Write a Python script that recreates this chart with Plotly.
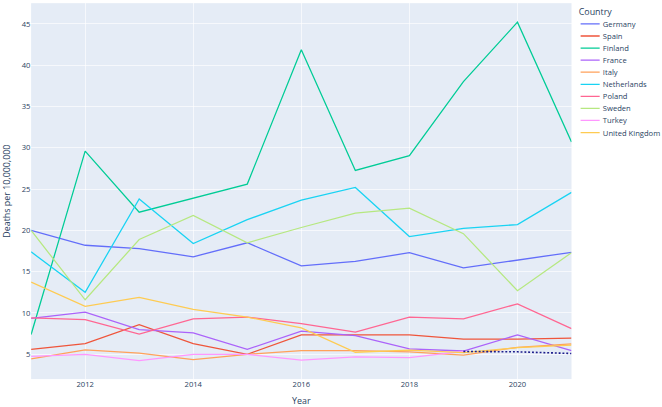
import plotly.graph_objects as go

years = list(range(2011, 2022))

germany = [20.0, 18.2, 17.8, 16.8, 18.5, 15.7, 16.25, 17.3, 15.45, 16.4, 17.35]
spain = [5.6, 6.3, 8.6, 6.3, 5.0, 7.35, 7.35, 7.35, 6.85, 6.85, 6.95]
finland = [7.4, 29.6, 22.2, 23.9, 25.6, 41.85, 27.25, 29.05, 38.0, 45.2, 30.7]
france = [9.35, 10.1, 8.0, 7.6, 5.6, 7.8, 7.25, 5.65, 5.4, 7.35, 5.45]
italy = [4.45, 5.55, 5.15, 4.35, 5.0, 5.45, 5.45, 5.3, 4.9, 5.85, 6.25]
netherlands = [17.4, 12.5, 23.8, 18.4, 21.3, 23.65, 25.2, 19.25, 20.25, 20.7, 24.6]
poland = [9.4, 9.2, 7.45, 9.3, 9.5, 8.7, 7.7, 9.5, 9.3, 11.1, 8.1]
sweden = [20.0, 11.6, 18.9, 21.8, 18.5, 20.35, 22.1, 22.7, 19.6, 12.7, 17.3]
turkey = [4.75, 5.0, 4.25, 5.0, 5.0, 4.3, 4.7, 4.6, 5.35, None, None]
uk = [13.75, 10.8, 11.9, 10.45, 9.5, 8.2, 5.25, 5.5, 5.2, 5.8, 6.1]

proj_years = [2019, 2020, 2021]
proj_values = [5.35, 5.3, 5.1]

countries = ["Germany", "Spain", "Finland", "France", "Italy", "Netherlands",
             "Poland", "Sweden", "Turkey", "United Kingdom"]
series = [germany, spain, finland, france, italy, netherlands, poland, sweden, turkey, uk]
colors = ["#636EFA", "#EF553B", "#00CC96", "#AB63FA", "#FFA15A", "#19D3F3",
          "#FF6692", "#B6E880", "#FF97FF", "#FECB52"]

SCALE = 0.635  # the reference is a downscaled rendering

fig = go.Figure()
for name, vals, col in zip(countries, series, colors):
    fig.add_trace(go.Scatter(x=years, y=vals, mode="lines", name=name,
                             line=dict(color=col, width=2)))

fig.add_trace(go.Scatter(x=proj_years, y=proj_values, mode="lines", showlegend=False,
                         line=dict(color="#1c1c8c", width=2.5, dash="dot")))

fig.update_layout(
    width=1043, height=641,
    margin=dict(l=49, r=143, t=5, b=44, autoexpand=False),
    template="plotly",
    legend=dict(title=dict(text="Country"), x=1.011, y=1, xanchor="left", yanchor="top",
                tracegroupgap=0),
    xaxis=dict(title=dict(text="Year"), range=[2011, 2021],
               dtick=2, tick0=2012, zeroline=False),
    yaxis=dict(title=dict(text="Deaths per 10,000,000"),
               range=[2.0, 47.5], dtick=5, tick0=5, zeroline=False),
)

fig.write_html("out.html",
               post_script="document.body.style.margin='0';document.body.style.zoom='%s';" % SCALE)
